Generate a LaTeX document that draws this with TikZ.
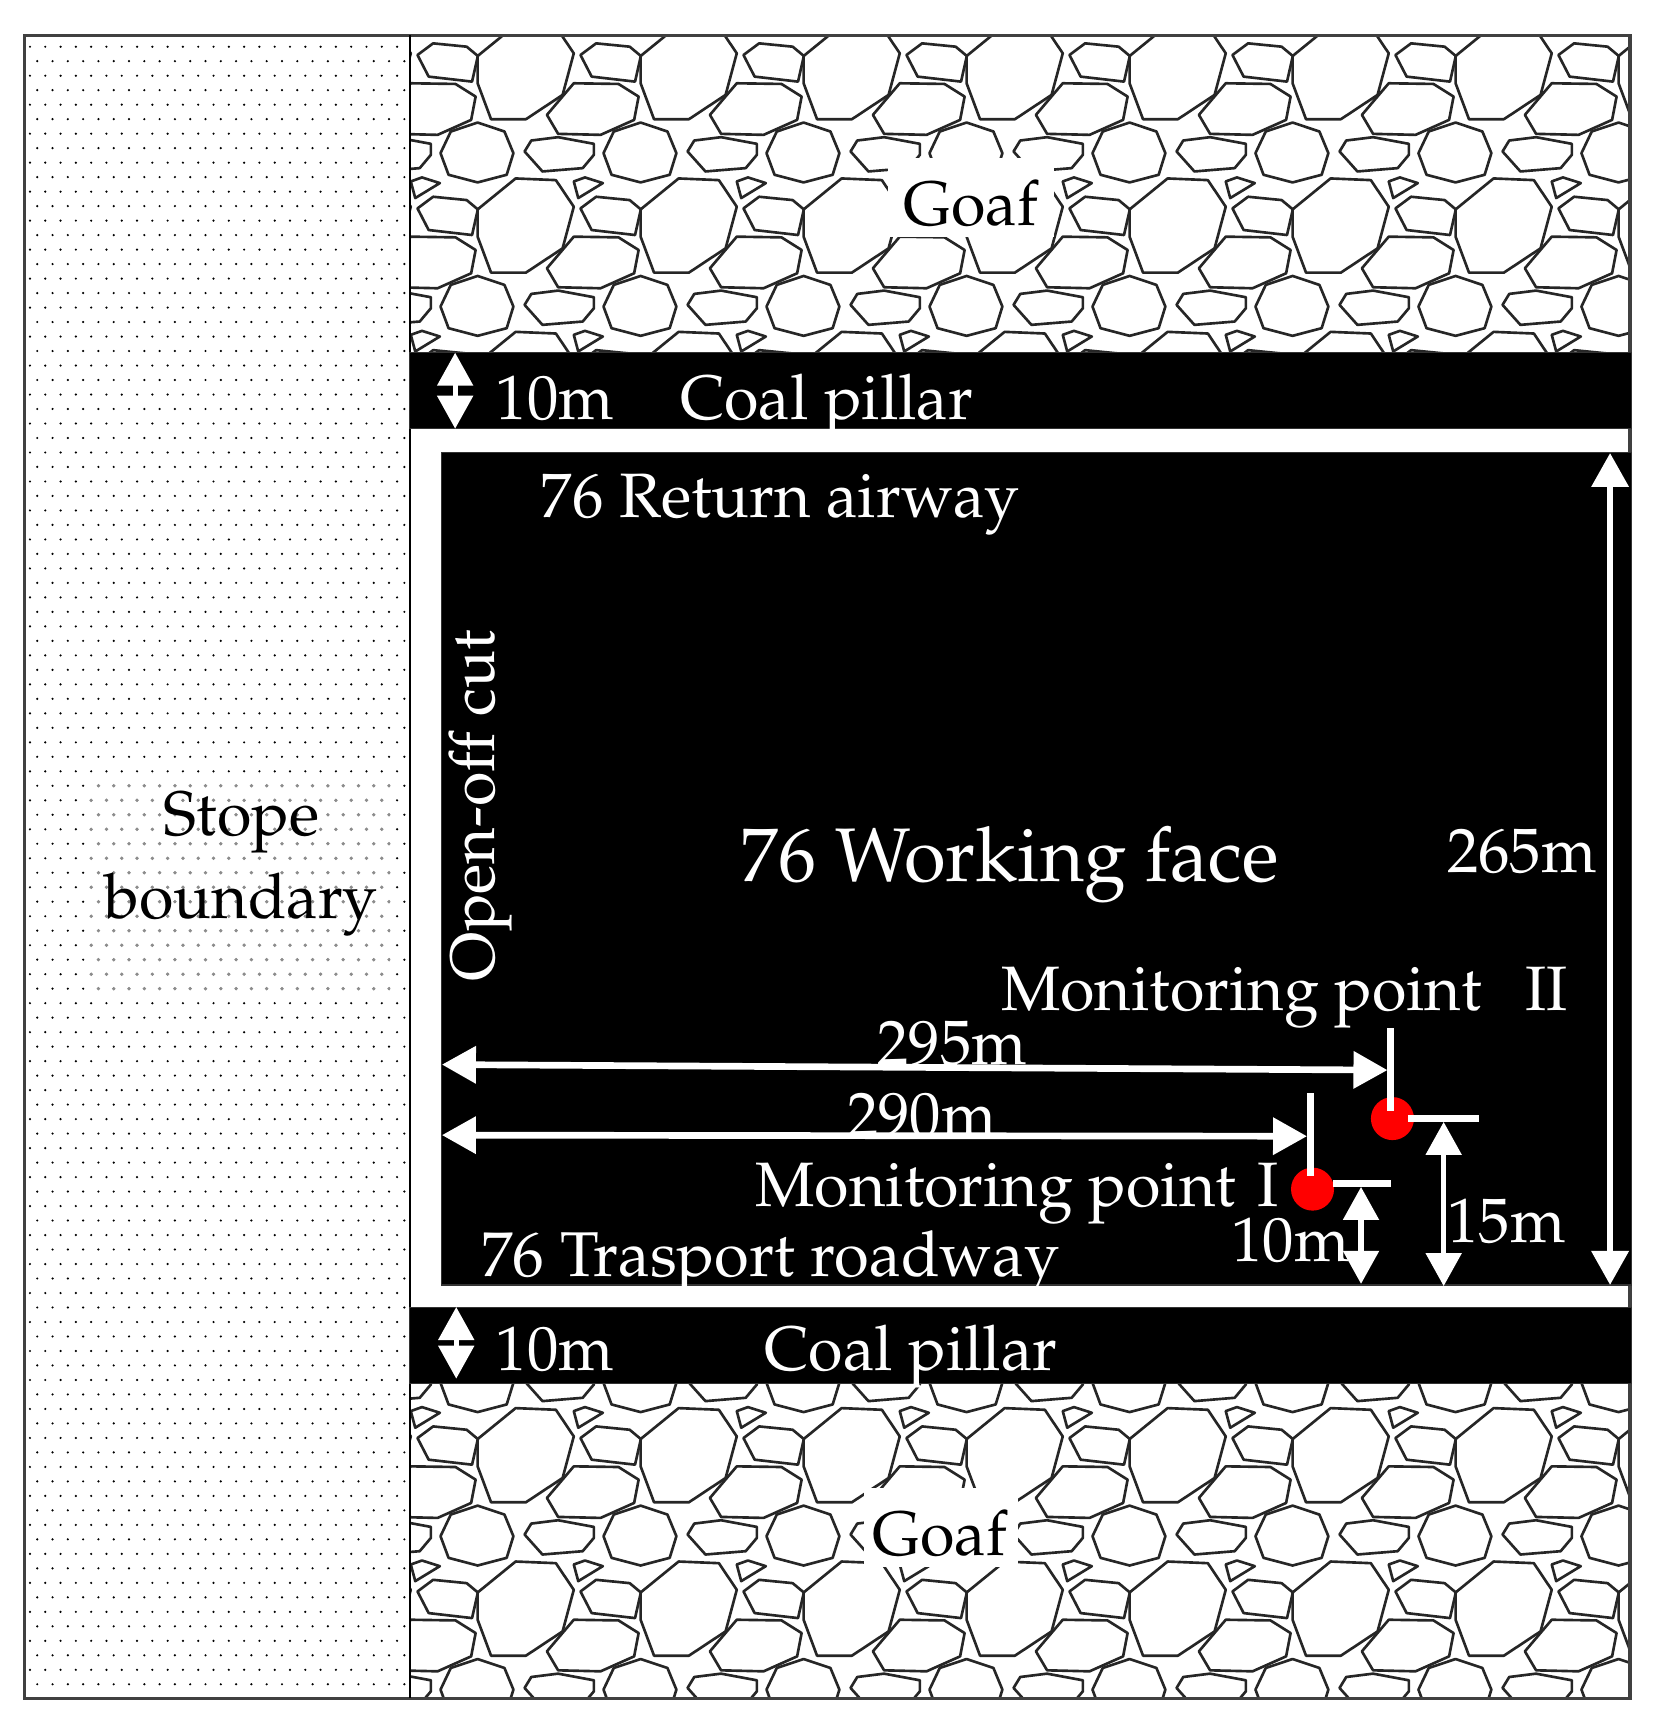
\documentclass[tikz,border=0pt]{standalone}
\usepackage[T1]{fontenc}
\renewcommand{\rmdefault}{ppl}
\usepackage{tikz}
\usetikzlibrary{arrows.meta}
\tikzset{
    black area/.style={fill=black, draw=black!80, line width=0.3pt},
    rock/.style={draw=black!85, line width=0.75pt, line join=round},
    white label/.style={text=white, inner sep=0pt, font=\fontsize{17.85}{23.5}\selectfont},
    big label/.style={text=white, inner sep=0pt, font=\fontsize{21.6}{26}\selectfont},
    black label/.style={text=black, inner sep=0pt, align=center, font=\fontsize{17.85}{23.5}\selectfont},
    long dim/.style={white, line width=1.9pt, {Triangle[width=0.36cm,length=0.34cm]}-{Triangle[width=0.36cm,length=0.34cm]}},
    short dim/.style={white, line width=1.5pt, {Triangle[width=0.35cm,length=0.33cm]}-{Triangle[width=0.35cm,length=0.33cm]}},
    tick/.style={white, line width=1.9pt},
    red point/.style={circle, fill=red, inner sep=0pt, minimum size=0.43cm}
}
% one cell of the rock pattern, one vertex of the big rock is at (0,0)
\newcommand{\rockcell}{
    \draw[rock] (0,0) -- (85,-93) -- (175,-88) -- (215,-8) -- (190,117) -- (108,190) -- (30,190) -- (0,82) -- cycle;
    \draw[rock] (230,-3) -- (265,-38) -- (340,-28) -- (365,0) -- (352,77) -- (255,62) -- cycle;
    \draw[rock] (155,177) -- (215,82) -- (315,84) -- (360,122) -- (350,192) -- (275,237) -- (180,234) -- cycle;
    \draw[rock] (-83,292) -- (-60,227) -- (0,200) -- (60,227) -- (80,292) -- (65,357) -- (0,380) -- (-65,357) -- cycle;
    \draw[rock] (105,287) -- (120,254) -- (180,244) -- (260,264) -- (260,297) -- (235,337) -- (145,347) -- cycle;
    \draw[rock] (215,377) -- (240,365) -- (280,382) -- (225,427) -- cycle;
}

\begin{document}
\begin{tikzpicture}[x=0.01102cm, y=-0.01102cm]
\useasboundingbox (0,0) rectangle (1509,1568);

%stope boundary dots
\begin{scope}
\clip (22,32) rectangle (372,1541);
\foreach \r in {0,...,57}{
    \foreach \c in {0,...,24}{
        \fill (27.2+13.88*\c, 42.4+26.3*\r) circle (1.1);
        \fill (33.8+13.88*\c, 55.5+26.3*\r) circle (1.1);
    }
}
\end{scope}

%grey dots behind the text
\begin{scope}
\clip (81,702) rectangle (354,903);
\foreach \r in {24,...,33}{
    \foreach \c in {0,...,24}{
        \fill[black!45] (27.2+13.88*\c, 42.4+26.3*\r) circle (1.7);
        \fill[black!45] (33.8+13.88*\c, 55.5+26.3*\r) circle (1.7);
    }
}
\end{scope}

%top goaf
\begin{scope}
\clip (372,32) rectangle (1479,320);
\foreach \i in {-1,...,7}{
    \foreach \j in {-1,0,1}{
        \begin{scope}[shift={(433.4+147.9*\i, 190+139.2*\j)}, x=0.004464cm, y=-0.003333cm]
        \rockcell
        \end{scope}
    }
}
\end{scope}

%bottom goaf
\begin{scope}
\clip (372,1255) rectangle (1479,1541);
\foreach \i in {-1,...,7}{
    \foreach \j in {-1,0,1}{
        \begin{scope}[shift={(433.4+147.9*\i, 1305.8+139.2*\j)}, x=0.004464cm, y=-0.003333cm]
        \rockcell
        \end{scope}
    }
}
\end{scope}

%frame
\draw[black!75, line width=0.9pt] (22,32) rectangle (1479,1541);
\draw[line width=0.7pt] (372,32) -- (372,1541);

%black areas
\fill[black area] (372,320) rectangle (1480,389);
\fill[black area] (401,411) rectangle (1480,1166);
\fill[black area] (372,1186) rectangle (1480,1255);

%dimension arrows
\coordinate (top pillar a) at (413,320);
\coordinate (top pillar b) at (413,389);
\coordinate (low pillar a) at (414,1186);
\coordinate (low pillar b) at (414,1251);
\draw[short dim] (top pillar a) -- (top pillar b);
\draw[short dim] (low pillar a) -- (low pillar b);

\coordinate (face top) at (1461,411);
\coordinate (face low) at (1461,1166);
\draw[long dim] (face top) -- (face low);

\node[red point] (point two) at (1263.5,1015) {};
\node[red point] (point one) at (1191,1079) {};

\coordinate (two up) at (1262,933);
\coordinate (two in) at (1262,1008);
\coordinate (one up) at (1189,992);
\coordinate (one in) at (1189,1067);
\draw[tick] (two up) -- (two in);
\draw[tick] (one up) -- (one in);

\coordinate (two a) at (1278,1015);
\coordinate (two b) at (1342,1015);
\coordinate (one a) at (1210,1074);
\coordinate (one b) at (1262,1074);
\draw[tick] (two a) -- (two b);
\draw[tick] (one a) -- (one b);

\coordinate (left a) at (401,966);
\coordinate (right a) at (1259,971);
\coordinate (left b) at (401,1030);
\coordinate (right b) at (1186,1031);
\draw[long dim] (left a) -- (right a);
\draw[long dim] (left b) -- (right b);

\coordinate (one mid) at (1235,1077);
\coordinate (one low) at (1235,1165);
\coordinate (two mid) at (1310,1018);
\coordinate (two low) at (1310,1167);
\draw[short dim] (one mid) -- (one low);
\draw[short dim] (two mid) -- (two low);

%labels
\fill[white] (806,143) rectangle (956,215);
\fill[white] (784,1350) rectangle (924,1422);
\node[black label, anchor=base] (goaf top) at (881,205) {Goaf};
\node[black label, anchor=base] (goaf low) at (853,1411) {Goaf};
\node[black label] (stope) at (219,784) {Stope\\boundary};
\node[white label, anchor=base] (ten top) at (503.5,381) {10m};
\node[white label, anchor=base] (pillar top) at (750,381) {Coal pillar};
\node[white label, anchor=base] (ten low) at (503.5,1244) {10m};
\node[white label, anchor=base] (pillar low) at (826.5,1244) {Coal pillar};
\node[white label, anchor=base] (airway) at (708,470) {76 Return airway};
\node[big label, anchor=base] (face) at (916,800) {76 Working face};
\node[white label, anchor=base, rotate=90] (cut) at (449,731) {Open-off cut};
\node[white label, anchor=base] (height) at (1381,792) {265m};
\node[white label, anchor=base west] (mon two) at (908,917) {Monitoring point\hspace{12.5pt}II};
\node[white label, anchor=base] (d two) at (864,966) {295m};
\node[white label, anchor=base] (d one) at (836.5,1031) {290m};
\node[white label, anchor=base west] (mon one) at (685,1095) {Monitoring point\hspace{6pt}I};
\node[white label, anchor=base] (ten) at (1171,1145) {10m};
\node[white label, anchor=base] (fifteen) at (1367,1127) {15m};
\node[white label, anchor=base west, font=\fontsize{18}{23.5}\selectfont] (roadway) at (436,1158) {76 Trasport roadway};

\end{tikzpicture}
\end{document}
